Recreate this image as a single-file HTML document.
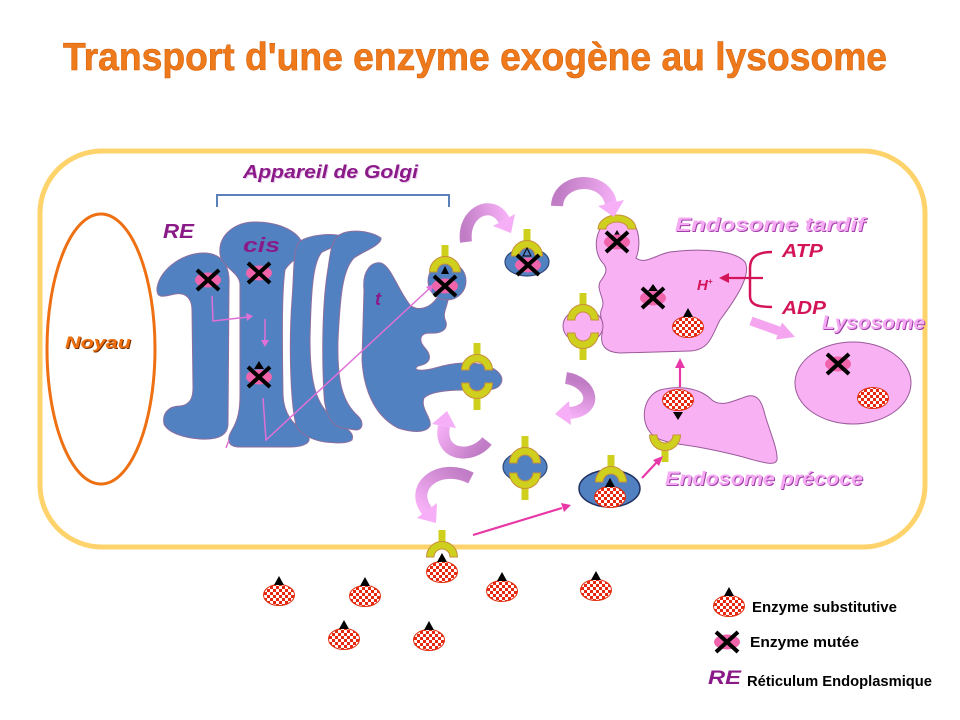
<!DOCTYPE html>
<html>
<head>
<meta charset="utf-8">
<style>
html,body{margin:0;padding:0;background:#fff;}
svg{display:block;}
</style>
</head>
<body>
<svg width="960" height="720" viewBox="0 0 960 720" xmlns="http://www.w3.org/2000/svg">
<defs>
  <pattern id="chk" width="6" height="6" patternUnits="userSpaceOnUse">
    <rect width="6" height="6" fill="#ffffff"/>
    <rect width="3" height="3" fill="#E8280E"/>
    <rect x="3" y="3" width="3" height="3" fill="#E8280E"/>
  </pattern>
  <g id="rec">
    <rect x="-3.5" y="-27" width="7" height="13" fill="#CFCF1E"/>
    <path d="M-15.5,0 A15.5,15.5 0 0 1 15.5,0 L8,0 A8,8 0 0 0 -8,0 Z" fill="#CFCF1E" stroke="#C89038" stroke-width="1"/>
  </g>
  <g id="enz">
    <ellipse rx="15.5" ry="10.5" fill="url(#chk)" stroke="#E03010" stroke-width="1"/>
    <path d="M0,-19 L5,-10 L-5,-10 Z" fill="#000"/>
  </g>
  <g id="enzb">
    <ellipse rx="15.5" ry="10.5" fill="url(#chk)" stroke="#E03010" stroke-width="1"/>
  </g>
  <g id="mut">
    <ellipse rx="13" ry="7.5" fill="#F064AC"/>
    <path d="M-11,-10 L11,10 M-11,10 L11,-10" stroke="#000" stroke-width="4"/>
  </g>
  <linearGradient id="gA" gradientUnits="userSpaceOnUse" x1="466" y1="242" x2="512" y2="232"><stop offset="0" stop-color="#C07CC4"/><stop offset="1" stop-color="#F8B2F8"/></linearGradient>
  <linearGradient id="gB" gradientUnits="userSpaceOnUse" x1="557" y1="206" x2="614" y2="217"><stop offset="0" stop-color="#C07CC4"/><stop offset="1" stop-color="#F8B2F8"/></linearGradient>
  <linearGradient id="gC" gradientUnits="userSpaceOnUse" x1="566" y1="378" x2="556" y2="414"><stop offset="0" stop-color="#C07CC4"/><stop offset="1" stop-color="#F8B2F8"/></linearGradient>
  <linearGradient id="gD" gradientUnits="userSpaceOnUse" x1="487" y1="441" x2="447" y2="412"><stop offset="0" stop-color="#C07CC4"/><stop offset="1" stop-color="#F8B2F8"/></linearGradient>
  <linearGradient id="gE" gradientUnits="userSpaceOnUse" x1="471" y1="478" x2="436" y2="522"><stop offset="0" stop-color="#C07CC4"/><stop offset="1" stop-color="#F8B2F8"/></linearGradient>
</defs>

<!-- Title -->
<text x="63" y="70" font-family="Liberation Sans, sans-serif" font-weight="bold" font-size="39" fill="#EE7A1C" stroke="#D4620C" stroke-width="0.6" textLength="824" lengthAdjust="spacingAndGlyphs">Transport d'une enzyme exogène au lysosome</text>

<!-- Cell -->
<rect x="40" y="151" width="885" height="396" rx="62" ry="62" fill="#fff" stroke="#FFD36B" stroke-width="5"/>

<!-- Nucleus -->
<ellipse cx="101" cy="349" rx="54" ry="135" fill="none" stroke="#EE7012" stroke-width="3"/>
<text x="66" y="349" font-family="Liberation Sans, sans-serif" font-weight="bold" font-style="italic" font-size="17" fill="#7A3000" textLength="66" lengthAdjust="spacingAndGlyphs">Noyau</text>
<text x="65" y="348" font-family="Liberation Sans, sans-serif" font-weight="bold" font-style="italic" font-size="17" fill="#F07010" textLength="66" lengthAdjust="spacingAndGlyphs">Noyau</text>

<!-- Golgi bracket -->
<path d="M217,207 L217,195 L449,195 L449,207" fill="none" stroke="#5A82B8" stroke-width="2"/>
<text x="244" y="179" font-family="Liberation Sans, sans-serif" font-weight="bold" font-style="italic" font-size="18" fill="#E8C8EC" textLength="175" lengthAdjust="spacingAndGlyphs">Appareil de Golgi</text>
<text x="243" y="178" font-family="Liberation Sans, sans-serif" font-weight="bold" font-style="italic" font-size="18" fill="#8B1A89" textLength="175" lengthAdjust="spacingAndGlyphs">Appareil de Golgi</text>

<!-- RE / Golgi labels -->
<text x="163" y="238" font-family="Liberation Sans, sans-serif" font-weight="bold" font-style="italic" font-size="20" fill="#8B1A89" textLength="31" lengthAdjust="spacingAndGlyphs">RE</text>

<!-- Golgi cisternae -->
<g fill="#5181C0" stroke="#8E6E9E" stroke-width="1">
  <path d="M157,288 C160,268 185,252 205,253 C222,254 230,265 229,285 L228,425 C227,437 215,440 200,439 C185,438 168,433 164,424 C162,414 168,406 180,406 C190,405 193,398 193,388 L192,310 C192,298 185,292 175,294 C165,296 156,300 157,288 Z"/>
  <path d="M220,254 C218,235 235,222 255,222 C280,222 300,232 303,246 C305,256 290,260 285,270 C282,290 282,330 283,395 C284,420 300,428 308,436 C312,442 305,447 290,447 L240,447 C228,447 226,440 232,430 C238,420 240,410 240,395 L240,285 C240,272 222,268 220,254 Z"/>
  <path d="M298,243 C305,235 335,232 345,237 C346,243 330,248 322,252 C313,262 311,290 310,340 C310,380 315,405 335,420 C345,428 355,432 352,440 C347,444 335,443 325,442 C310,440 298,432 296,425 C290,400 289,340 292,300 C294,275 293,252 298,243 Z"/>
  <path d="M337,237 C345,228 370,230 381,238 C382,245 362,252 354,258 C342,270 340,300 338,340 C337,380 342,402 358,416 C364,422 363,430 356,430 L342,428 C330,425 325,412 324,395 C322,360 322,310 327,275 C330,258 330,245 337,237 Z"/>
  <path d="M364,290 C362,270 372,261 381,263 C391,266 398,290 410,305 C418,312 430,308 437,298 L448,300 C446,310 442,314 446,322 C448,330 440,334 430,333 C420,333 418,340 425,348 C433,357 430,364 418,366 C412,370 420,372 435,368 C455,362 470,362 485,365 C500,370 505,378 500,385 C495,392 480,390 465,390 C445,390 430,392 424,398 C420,408 432,418 430,426 C425,434 410,432 398,428 C378,418 364,395 362,360 Z"/>
  <circle cx="447" cy="281" r="19"/>
</g>
<text x="243" y="252" font-family="Liberation Sans, sans-serif" font-weight="bold" font-style="italic" font-size="20" fill="#8B1A89" textLength="37" lengthAdjust="spacingAndGlyphs">cis</text>
<text x="375" y="305" font-family="Liberation Sans, sans-serif" font-weight="bold" font-style="italic" font-size="18" fill="#8B1A89">t</text>

<!-- pink internal lines -->
<g stroke="#E070D8" stroke-width="1.5" fill="none">
  <path d="M212,296 L213,321 L248,317"/>
  <path d="M265,319 L265,342"/>
  <path d="M263,398 L266,440 L430,288"/>
  <path d="M226,448 L229,440"/>
</g>
<g fill="#E070D8">
  <path d="M253,316 L246,313 L247,321 Z"/>
  <path d="M265,347 L261,340 L269,340 Z"/>
  <path d="M434,284 L426,287 L431,292 Z"/>
</g>

<!-- Golgi enzymes -->
<use href="#mut" x="208" y="280"/>
<use href="#mut" x="259" y="273"/>
<use href="#mut" x="259" y="377"/>
<path d="M259,361 L264,369 L254,369 Z" fill="#000"/>

<!-- Vesicle on Golgi tip -->
<use href="#rec" x="445" y="272"/>
<path d="M445,266 L449,274 L441,274 Z" fill="#000"/>
<use href="#mut" x="445" y="286"/>

<!-- Golgi double receptor -->
<use href="#rec" x="477" y="370"/>
<use href="#rec" transform="translate(477,383) scale(1,-1)"/>

<!-- Free blue vesicle with hollow triangle -->
<ellipse cx="527" cy="262" rx="22" ry="14" fill="#5181C0" stroke="#304878" stroke-width="1.2"/>
<use href="#rec" x="527" y="256"/>
<path d="M527,248 L531,256 L523,256 Z" fill="none" stroke="#000" stroke-width="1"/>
<use href="#mut" x="528" y="265"/>

<!-- Free blue vesicle double receptor -->
<ellipse cx="525" cy="467" rx="22" ry="15" fill="#5181C0" stroke="#304878" stroke-width="1.2"/>
<use href="#rec" x="525" y="463"/>
<use href="#rec" transform="translate(525,473) scale(1,-1)"/>

<!-- Vesicle with substitutive enzyme -->
<ellipse cx="609.5" cy="488.5" rx="30.5" ry="18.5" fill="#5181C0" stroke="#203060" stroke-width="1.5"/>
<use href="#rec" x="611" y="482"/>
<use href="#enz" x="610" y="497"/>

<!-- Late endosome -->
<g fill="#F8B2F4" stroke="#9A5A9A" stroke-width="1">
  <path d="M602,262 C592,250 594,222 617,216 C640,214 642,245 636,258 C645,265 655,255 670,252 C700,248 735,250 745,262 C752,275 735,300 720,320 C712,335 710,350 690,351 L620,353 C605,352 600,345 602,334 C604,320 598,316 602,308 C606,300 596,290 600,282 C604,276 610,270 602,262 Z"/>
  <ellipse cx="583" cy="326" rx="20" ry="17"/>
</g>
<path d="M598,229 A19,14 0 0 1 636,229 L628,229 A11,7 0 0 0 606,229 Z" fill="#CFCF1E" stroke="#C89038" stroke-width="1"/>
<path d="M617,230 L621,237 L613,237 Z" fill="#000"/>
<use href="#mut" x="617" y="242"/>
<use href="#rec" x="583" y="320"/>
<use href="#rec" transform="translate(583,333) scale(1,-1)"/>
<use href="#mut" x="653" y="298"/>
<path d="M653,284 L658,291 L648,291 Z" fill="#000"/>
<use href="#enz" x="688" y="327"/>

<!-- Lysosome -->
<ellipse cx="853" cy="383" rx="58" ry="41" fill="#F8B2F4" stroke="#9A5A9A" stroke-width="1"/>
<use href="#mut" x="838" y="364"/>
<use href="#enzb" x="873" y="398"/>

<!-- Early endosome -->
<path d="M650,432 C640,420 643,396 660,390 C680,385 700,388 712,400 C722,408 735,400 748,396 C758,394 762,402 765,415 C770,432 778,450 777,460 C775,466 765,463 750,459 C730,453 700,447 685,445 C670,443 655,440 650,432 Z" fill="#F8B2F4" stroke="#9A5A9A" stroke-width="1"/>
<use href="#enzb" x="678" y="400"/>
<path d="M678,420 L683,412 L673,412 Z" fill="#000"/>
<use href="#rec" transform="translate(665,435) scale(1,-1)"/>

<!-- Membrane receptor + enzyme -->
<use href="#rec" x="442" y="557"/>
<use href="#enz" x="442" y="572"/>

<!-- Free enzymes -->
<use href="#enz" x="279" y="595"/>
<use href="#enz" x="365" y="596"/>
<use href="#enz" x="502" y="591"/>
<use href="#enz" x="596" y="590"/>
<use href="#enz" x="344" y="639"/>
<use href="#enz" x="429" y="640"/>

<!-- Magenta straight arrows -->
<g stroke="#E838A8" stroke-width="2.2" fill="none">
  <path d="M473,535 L562,508"/>
  <path d="M642,478 L657,462"/>
  <path d="M680,387 L680,366"/>
</g>
<g fill="#E838A8">
  <path d="M571,505 L561,503 L564,512 Z"/>
  <path d="M663,456 L653,460 L659,466 Z"/>
  <path d="M680,358 L675,368 L685,368 Z"/>
</g>

<!-- ATP/ADP bracket -->
<path d="M772,252 C756,252 750,258 750,268 L750,296 C750,304 756,307 772,307" fill="none" stroke="#D41459" stroke-width="2.5"/>
<path d="M763,278 L728,278" stroke="#D41459" stroke-width="2.2"/>
<path d="M719,278 L729,273 L729,283 Z" fill="#D41459"/>
<text x="782" y="257" font-family="Liberation Sans, sans-serif" font-weight="bold" font-style="italic" font-size="18" fill="#D41459" textLength="41" lengthAdjust="spacingAndGlyphs">ATP</text>
<text x="782" y="314" font-family="Liberation Sans, sans-serif" font-weight="bold" font-style="italic" font-size="18" fill="#D41459" textLength="44" lengthAdjust="spacingAndGlyphs">ADP</text>
<text x="697" y="290" font-family="Liberation Sans, sans-serif" font-weight="bold" font-style="italic" font-size="15" fill="#D41459">H<tspan font-size="8" dy="-6">+</tspan></text>

<!-- Pink thick arrow to lysosome -->
<path d="M751,321 L779,331" stroke="#F5A5F0" stroke-width="9"/>
<path d="M795,337 L776,339.5 L782,322.5 Z" fill="#F5A5F0"/>

<!-- Curved arrows -->
<path d="M466,242 C462,212 492,198 504,220" fill="none" stroke="url(#gA)" stroke-width="12"/>
<path d="M511,233 L493,226 L515,214 Z" fill="#F6AEF6"/>
<path d="M557,206 C558,178 604,174 611,203" fill="none" stroke="url(#gB)" stroke-width="12"/>
<path d="M614,217 L598,206 L624,200 Z" fill="#F6AEF6"/>
<path d="M566,378 C592,382 600,410 570,413" fill="none" stroke="url(#gC)" stroke-width="12"/>
<path d="M555,414 L571,425 L569,401 Z" fill="#F6AEF6"/>
<path d="M487,441 C472,460 438,456 444,426" fill="none" stroke="url(#gD)" stroke-width="12"/>
<path d="M447,411 L456,428 L432,424 Z" fill="#F6AEF6"/>
<path d="M471,478 C440,462 408,486 427,511" fill="none" stroke="url(#gE)" stroke-width="12"/>
<path d="M436,523 L417,518 L437,503 Z" fill="#F6AEF6"/>

<!-- Pink labels -->
<g font-family="Liberation Sans, sans-serif" font-weight="bold" font-style="italic" font-size="19">
  <text x="676" y="232" fill="#A040A8" textLength="190" lengthAdjust="spacingAndGlyphs">Endosome tardif</text>
  <text x="675" y="231" fill="#F6AAF4" textLength="190" lengthAdjust="spacingAndGlyphs">Endosome tardif</text>
  <text x="823" y="330" fill="#A040A8" textLength="103" lengthAdjust="spacingAndGlyphs">Lysosome</text>
  <text x="822" y="329" fill="#F6AAF4" textLength="103" lengthAdjust="spacingAndGlyphs">Lysosome</text>
  <text x="666" y="486" fill="#A040A8" textLength="198" lengthAdjust="spacingAndGlyphs">Endosome précoce</text>
  <text x="665" y="485" fill="#F6AAF4" textLength="198" lengthAdjust="spacingAndGlyphs">Endosome précoce</text>
</g>

<!-- Legend -->
<use href="#enz" x="729" y="606"/>
<text x="752" y="612" font-family="Liberation Sans, sans-serif" font-weight="bold" font-size="15" fill="#000" textLength="145" lengthAdjust="spacingAndGlyphs">Enzyme substitutive</text>
<use href="#mut" x="727" y="642"/>
<text x="750" y="647" font-family="Liberation Sans, sans-serif" font-weight="bold" font-size="15" fill="#000" textLength="109" lengthAdjust="spacingAndGlyphs">Enzyme mutée</text>
<text x="708" y="684" font-family="Liberation Sans, sans-serif" font-weight="bold" font-style="italic" font-size="19" fill="#8B1A89" textLength="33" lengthAdjust="spacingAndGlyphs">RE</text>
<text x="747" y="686" font-family="Liberation Sans, sans-serif" font-weight="bold" font-size="15" fill="#000" textLength="185" lengthAdjust="spacingAndGlyphs">Réticulum Endoplasmique</text>
</svg>
</body>
</html>
